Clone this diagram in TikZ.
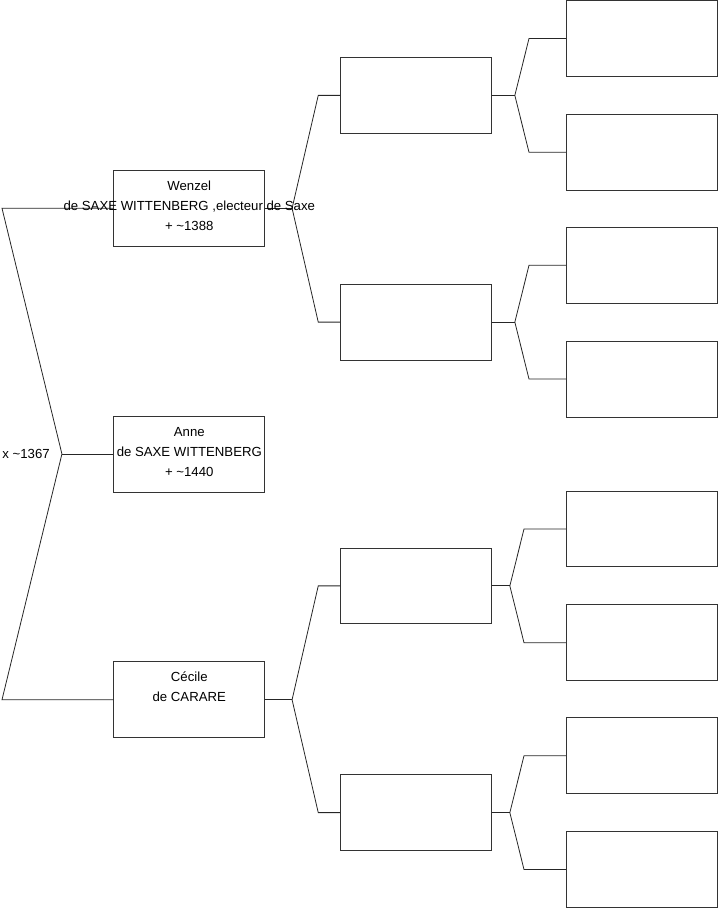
\documentclass[tikz,border=0pt]{standalone}
\usepackage{fontspec}
\setmainfont{Liberation Sans}
\usetikzlibrary{positioning}

\begin{document}
\begin{tikzpicture}[
    x=1pt, y=-1pt,
    person/.style={rectangle, draw=black!80, line width=0.8pt, minimum width=151pt, minimum height=76pt, inner sep=0pt},
    persontext/.style={align=center, inner sep=0pt, font=\fontsize{13.2}{20}\selectfont},
    link/.style={draw=black!85, line width=0.8pt}
]
\useasboundingbox (0,-0.5) rectangle (719.5,908.5);

% generation 1
\node[person] (wenzel) at (189.5,208) {};
\node[person] (anne) at (189.5,454) {};
\node[person] (cecile) at (189.5,700) {};

% generation 2
\node[person] (f1) at (416.5,95) {};
\node[person] (f2) at (416.5,322) {};
\node[person] (f3) at (416.5,586) {};
\node[person] (f4) at (416.5,813) {};

% generation 3
\node[person] (g1) at (642.5,38) {};
\node[person] (g2) at (642.5,152) {};
\node[person] (g3) at (642.5,265) {};
\node[person] (g4) at (642.5,379) {};
\node[person] (g5) at (642.5,529) {};
\node[person] (g6) at (642.5,643) {};
\node[person] (g7) at (642.5,756) {};
\node[person] (g8) at (642.5,870) {};

% marriage fork
\coordinate (wl) at (2,208);
\coordinate (cl) at (2,700);
\coordinate (m) at (62,454);
\draw[link] (wenzel.west) -- (wl) -- (m) -- (cl) -- (cecile.west);
\draw[link] (m) -- (anne.west);
\node[persontext, left=12pt of m] (marriage) {x \textasciitilde1367};

% parents forks
\draw[link] (wenzel.east) -- ++(27,0) coordinate (wf);
\draw[link] (f1.west) -- ++(-22,0) -- (wf);
\draw[link] (f2.west) -- ++(-22,0) -- (wf);
\draw[link] (cecile.east) -- ++(27,0) coordinate (cf);
\draw[link] (f3.west) -- ++(-22,0) -- (cf);
\draw[link] (f4.west) -- ++(-22,0) -- (cf);

\draw[link] (f1.east) -- ++(23,0) coordinate (f1f);
\draw[link] (g1.west) -- ++(-37,0) -- (f1f);
\draw[link] (g2.west) -- ++(-37,0) -- (f1f);
\draw[link] (f2.east) -- ++(23,0) coordinate (f2f);
\draw[link] (g3.west) -- ++(-37,0) -- (f2f);
\draw[link] (g4.west) -- ++(-37,0) -- (f2f);
\draw[link] (f3.east) -- ++(18,0) coordinate (f3f);
\draw[link] (g5.west) -- ++(-42,0) -- (f3f);
\draw[link] (g6.west) -- ++(-42,0) -- (f3f);
\draw[link] (f4.east) -- ++(18,0) coordinate (f4f);
\draw[link] (g7.west) -- ++(-42,0) -- (f4f);
\draw[link] (g8.west) -- ++(-42,0) -- (f4f);

% names
\node[persontext, below=11pt of wenzel.north] (wenzeltxt) {Wenzel\\de SAXE WITTENBERG ,electeur de Saxe\\+ \textasciitilde1388};
\node[persontext, below=12pt of anne.north] (annetxt) {Anne\\de SAXE WITTENBERG\\+ \textasciitilde1440};
\node[persontext, below=10pt of cecile.north] (ceciletxt) {Cécile\\de CARARE};
\end{tikzpicture}
\end{document}
